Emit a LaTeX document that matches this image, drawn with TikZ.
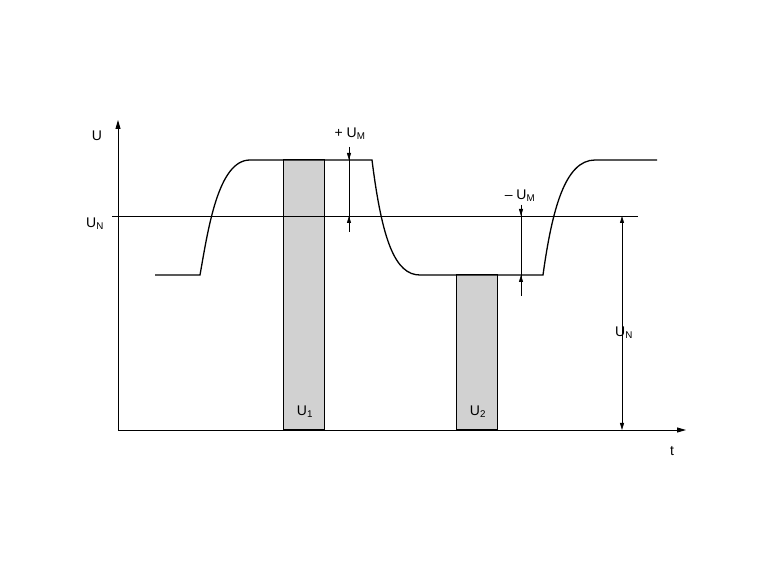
\documentclass[tikz,border=0pt]{standalone}
\usepackage{fontspec}
\setmainfont{Liberation Sans}
\usetikzlibrary{arrows.meta}
\begin{document}
\begin{tikzpicture}[x=1pt,y=-1pt,line width=1pt,
  lbl/.style={font=\fontsize{14}{16}\selectfont,inner sep=0pt},
  tip/.style={-{Triangle[length=7pt,width=4pt]}},
  bar/.style={fill=black!18,draw=black,line width=1pt},
  thin/.style={line width=0.8pt}]
\useasboundingbox (0,0) rectangle (769,577);
% bars
\draw[bar] (283,160) rectangle (324,430);
\draw[bar] (456,275) rectangle (497,430);
\node[lbl] (u1) at (305,412) {U\textsubscript{1}};
\node[lbl] (u2) at (478,412) {U\textsubscript{2}};
% axes
\coordinate (o) at (118,430);
\coordinate (ytop) at (118,120);
\coordinate (xend) at (686,430);
\draw[thin,-{Triangle[length=9pt,width=5pt]}] (o) -- (ytop);
\draw[thin,-{Triangle[length=9pt,width=5pt]}] (o) -- (xend);
\node[lbl] (ul) at (97,136) {U};
\node[lbl] (tl) at (672,451) {t};
% UN line
\coordinate (una) at (112,216);
\coordinate (unb) at (638,216);
\draw[thin] (una) -- (unb);
\node[lbl] (unl) at (95,224) {U\textsubscript{N}};
% curve
\draw[line width=1.3pt] (155,275) -- (200,275)
  .. controls (208,230) and (218,160) .. (250,160) -- (372,160)
  .. controls (382,240) and (395,275) .. (420,275) -- (543,275)
  .. controls (552,210) and (565,160) .. (595,160) -- (657,160);
% +UM
\coordinate (a1) at (349,147); \coordinate (a2) at (349,160);
\coordinate (a3) at (349,216); \coordinate (a4) at (349,232);
\draw[thin] (a1) -- (a4);
\draw[thin,tip] (a1) -- (a2);
\draw[thin,tip] (a4) -- (a3);
\node[lbl] (pum) at (350,134) {+ U\textsubscript{M}};
% -UM
\coordinate (b1) at (521,205); \coordinate (b2) at (521,216);
\coordinate (b3) at (521,275); \coordinate (b4) at (521,296);
\draw[thin] (b1) -- (b4);
\draw[thin,tip] (b1) -- (b2);
\draw[thin,tip] (b4) -- (b3);
\node[lbl] (mum) at (520,196) {\textendash\ U\textsubscript{M}};
% UN dim
\coordinate (c1) at (622,216); \coordinate (c2) at (622,430);
\draw[thin,{Triangle[length=7pt,width=4pt]}-{Triangle[length=7pt,width=4pt]}] (c1) -- (c2);
\node[lbl] (unr) at (624,333) {U\textsubscript{N}};
\end{tikzpicture}
\end{document}
